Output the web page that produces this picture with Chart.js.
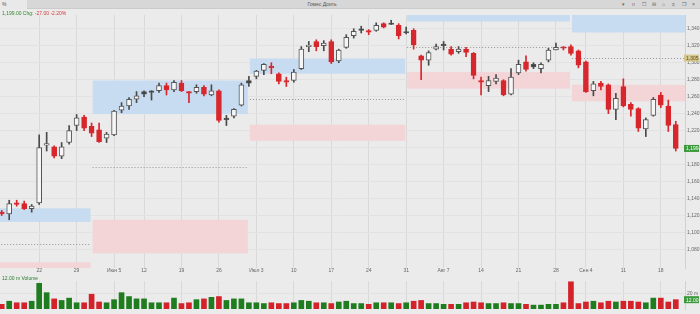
<!DOCTYPE html>
<html>
<head>
<meta charset="utf-8">
<script src="https://cdn.jsdelivr.net/npm/chart.js@4.4.1/dist/chart.umd.min.js"></script>
<style>
  body { margin: 0; background: #ebebeb; font-family: "Liberation Sans", Arial, sans-serif; }
  #wrap { position: relative; width: 700px; height: 314px; overflow: hidden; background: #ebebeb; }
  #topbar { position: absolute; left: 0; top: 0; width: 700px; height: 9px; background: #d7d7d7; border-bottom: 1px solid #cbcbcb; box-sizing: border-box; }
  #tab { position: absolute; left: 0; top: 0; width: 27px; height: 9px; background: #e9e9e9; font-size: 5px; color: #555; line-height: 9px; padding-left: 2px; box-sizing: border-box; }
  #title { position: absolute; left: 290px; width: 64px; top: 0; text-align: center; font-size: 5px; line-height: 9px; color: #555; }
  .ico { position: absolute; top: 0; font-size: 5px; line-height: 9px; color: #666; }
  canvas { position: absolute; left: 0; }
  #price { top: 10px; }
  #vol { top: 276px; }
  #info { position: absolute; left: 2px; top: 10px; font-size: 5px; line-height: 7px; }
  #volinfo { position: absolute; left: 2px; top: 275px; font-size: 5px; line-height: 7px; color: #2a7d2a; }
</style>
</head>
<body>
<div id="wrap">
  <div id="topbar">
    <div id="tab">%</div>
    <div id="title">Гомес Доить</div>
    <span class="ico" style="left:622px">▾</span>
    <span class="ico" style="left:632px">ıı</span>
    <span class="ico" style="left:642px">☐</span>
    <span class="ico" style="left:652px">⊟</span>
    <span class="ico" style="left:662px">⌂</span>
    <span class="ico" style="left:672px">≡</span>
    <span class="ico" style="left:682px">❐</span>
    <span class="ico" style="left:692px">×</span>
  </div>
  <canvas id="price" width="700" height="266"></canvas>
  <canvas id="vol" width="700" height="38"></canvas>
  <div id="info"></div>
  <div id="volinfo"></div>
</div>
<script>
// week start labels and the bar they sit on
var weekIdx = [5, 10, 15, 19, 24, 29, 34, 39, 44, 49, 54, 59, 64, 69, 74, 78, 83, 88];
var weekLbl = ['22', '29', 'Июн 5', '12', '19', '26', 'Июл 3', '10', '17', '24', '31', 'Авг 7', '14', '21', '28', 'Сен 4', '11', '18'];

var opens = [1124, 1122, 1135, 1134, 1128, 1135, 1203, 1201, 1190, 1206, 1226, 1236, 1225, 1221, 1211, 1215, 1244, 1249, 1257, 1266,
    1266, 1267, 1273, 1268, 1276, 1266, 1266, 1271, 1262, 1267, 1234, 1237, 1250, 1279, 1284, 1291, 1295, 1287, 1279, 1279,
    1293, 1319, 1325, 1320, 1325, 1302, 1318, 1332, 1339, 1337, 1338, 1346, 1346, 1344, 1336, 1338, 1308, 1303, 1316, 1322,
    1316, 1313, 1316, 1311, 1279, 1273, 1278, 1279, 1263, 1288, 1301, 1298, 1293, 1303, 1315, 1318, 1319, 1314, 1301, 1267,
    1276, 1274, 1245, 1272, 1251, 1246, 1222, 1238, 1262, 1249, 1227];
var highs = [1126, 1138, 1138, 1137, 1133, 1215, 1218, 1202, 1206, 1226, 1239, 1238, 1229, 1229, 1218, 1244, 1253, 1259, 1266, 1267,
    1267, 1276, 1276, 1279, 1279, 1266, 1274, 1273, 1274, 1268, 1238, 1246, 1276, 1284, 1291, 1299, 1300, 1288, 1283, 1292,
    1319, 1325, 1327, 1326, 1327, 1316, 1333, 1340, 1343, 1339, 1347, 1347, 1350, 1346, 1342, 1340, 1309, 1314, 1322, 1325,
    1319, 1319, 1318, 1312, 1283, 1284, 1286, 1280, 1293, 1303, 1308, 1300, 1300, 1317, 1323, 1319, 1321, 1315, 1302, 1278,
    1278, 1275, 1264, 1281, 1253, 1247, 1235, 1259, 1265, 1256, 1231];
var lows = [1120, 1115, 1131, 1127, 1124, 1133, 1196, 1188, 1187, 1204, 1220, 1220, 1213, 1206, 1206, 1214, 1241, 1245, 1253, 1260,
    1256, 1265, 1262, 1266, 1266, 1253, 1264, 1261, 1261, 1230, 1226, 1235, 1249, 1272, 1281, 1286, 1287, 1275, 1272, 1277,
    1292, 1313, 1314, 1314, 1299, 1300, 1317, 1329, 1335, 1333, 1337, 1341, 1345, 1328, 1334, 1316, 1280, 1297, 1315, 1315,
    1309, 1311, 1307, 1281, 1262, 1266, 1275, 1261, 1262, 1286, 1290, 1293, 1288, 1301, 1315, 1315, 1309, 1294, 1265, 1261,
    1268, 1240, 1233, 1248, 1237, 1219, 1213, 1237, 1247, 1219, 1196];
var closes = [1122, 1134, 1133, 1128, 1131, 1200, 1204, 1190, 1201, 1220, 1235, 1223, 1217, 1207, 1216, 1243, 1249, 1257, 1261, 1263,
    1265, 1273, 1268, 1277, 1267, 1264, 1271, 1263, 1267, 1232, 1233, 1245, 1274, 1276, 1290, 1298, 1294, 1278, 1277, 1289,
    1316, 1320, 1319, 1323, 1301, 1315, 1330, 1337, 1338, 1336, 1344, 1342, 1345, 1332, 1335, 1321, 1303, 1312, 1319, 1320,
    1310, 1316, 1312, 1285, 1277, 1279, 1282, 1262, 1283, 1298, 1292, 1295, 1298, 1315, 1318, 1317, 1311, 1297, 1266, 1275,
    1272, 1245, 1258, 1249, 1245, 1223, 1233, 1257, 1250, 1226, 1199];
// volume in millions
var volumes = [6, 10, 8, 8, 10, 33, 21, 13, 11, 14, 8, 8, 19, 9, 8, 12, 21, 16, 13, 13,
    8, 8, 8, 14, 7, 8, 12, 13, 15, 16, 11, 13, 13, 8, 8, 7, 8, 7, 7, 8,
    11, 10, 8, 8, 7, 9, 10, 7, 7, 6, 8, 8, 8, 7, 8, 10, 11, 7, 7, 6,
    6, 6, 8, 9, 8, 7, 7, 8, 7, 7, 6, 5, 5, 6, 6, 8, 35, 7, 9, 10,
    8, 10, 9, 10, 10, 9, 8, 14, 14, 9, 12];

// monthly zones: first bar of each period, support / resistance bands and pivot
var zoneFrom = [-1, 12, 33, 54, 76];
var zoneTo = [12, 33, 54, 76, 92];
var blueTop = [1128.5, 1279, 1305, 1357, 1357];
var blueBot = [1112.5, 1239.5, 1287, 1348.5, 1335.5];
var pinkTop = [1065, 1115, 1227, 1289, 1274];
var pinkBot = [1050, 1075.5, 1208, 1269.5, 1254.5];
var pivots = [1087, 1177, 1257, 1319, 1305.4];

var priceTicks = [1080, 1100, 1120, 1140, 1160, 1180, 1200, 1220, 1240, 1260, 1280, 1300, 1320, 1340];
var volTicks = [20];

var RED = '#d7262c', DARK = '#3c3c3c', HOLLOW = '#f6f6f6', EDGE = '#555555';
var VGREEN = '#1f7d1f', VRED = '#d4222a';

function fmt(v) {
    return v.toLocaleString('en-US', { minimumFractionDigits: 2, maximumFractionDigits: 2 });
}

var n = closes.length;
var bodyFill = [], bodyEdge = [], wickCol = [], volCol = [];
for (var i = 0; i < n; i++) {
    var prev = i > 0 ? closes[i - 1] : opens[i];
    var down = closes[i] < prev;
    var up = closes[i] >= opens[i];
    bodyFill.push(up ? HOLLOW : (down ? RED : DARK));
    bodyEdge.push(down ? RED : EDGE);
    wickCol.push(down ? RED : '#4a4a4a');
    volCol.push(down ? VRED : VGREEN);
}

var last = n - 1;
var chg = closes[last] - closes[last - 1];
document.getElementById('info').innerHTML =
    '<span style="color:#2f8a2f">' + fmt(closes[last]) + ' Chg: </span>' +
    '<span style="color:#d23a3a">' + fmt(chg) + ' ' + (chg / closes[last - 1] * 100).toFixed(2) + '%</span>';
document.getElementById('volinfo').textContent = fmt(volumes[last]) + ' m Volume';

var xMin = -0.23, xMax = 91.23;

function xScale(showLabels) {
    return {
        type: 'linear',
        min: xMin,
        max: xMax,
        offset: false,
        afterBuildTicks: function (scale) {
            scale.ticks = weekIdx.map(function (v) { return { value: v }; });
        },
        afterFit: function (scale) { scale.height = showLabels ? 8 : 2; },
        ticks: {
            display: showLabels,
            autoSkip: false,
            maxRotation: 0,
            padding: 0,
            font: { size: 5 },
            color: '#666',
            callback: function (v) {
                var k = weekIdx.indexOf(v);
                return k >= 0 ? weekLbl[k] : '';
            }
        },
        grid: { color: '#d9d9d9', drawTicks: false, offset: false },
        border: { display: false }
    };
}

var zonePlugin = {
    id: 'zones',
    beforeDatasetsDraw: function (chart) {
        var ctx = chart.ctx, a = chart.chartArea, x = chart.scales.x, y = chart.scales.y;
        ctx.save();
        ctx.beginPath();
        ctx.rect(a.left, a.top, a.right - a.left, a.bottom - a.top);
        ctx.clip();
        for (var k = 0; k < zoneFrom.length; k++) {
            var x1 = x.getPixelForValue(zoneFrom[k]) + 1;
            var x2 = x.getPixelForValue(zoneTo[k]) - 1;
            ctx.fillStyle = '#c8dcf1';
            var b1 = y.getPixelForValue(blueTop[k]), b2 = y.getPixelForValue(blueBot[k]);
            ctx.fillRect(x1, b1, x2 - x1, b2 - b1);
            ctx.fillStyle = '#f3d5d8';
            var p1 = y.getPixelForValue(pinkTop[k]), p2 = y.getPixelForValue(pinkBot[k]);
            ctx.fillRect(x1, p1, x2 - x1, p2 - p1);
            var py = Math.round(y.getPixelForValue(pivots[k])) + 0.5;
            ctx.strokeStyle = '#949494';
            ctx.lineWidth = 1;
            ctx.setLineDash([1, 2]);
            ctx.beginPath();
            ctx.moveTo(x1, py);
            ctx.lineTo(x2, py);
            ctx.stroke();
        }
        ctx.restore();
    },
    afterDraw: function (chart) {
        var ctx = chart.ctx, a = chart.chartArea, y = chart.scales.y;
        function tag(val, bg, fg) {
            var py = y.getPixelForValue(val);
            ctx.fillStyle = bg;
            ctx.fillRect(a.right - 1, py - 3.5, chart.width - a.right, 7);
            ctx.fillStyle = fg;
            ctx.font = '5px "Liberation Sans"';
            ctx.textBaseline = 'middle';
            ctx.fillText(fmt(val), a.right + 1, py + 0.5);
        }
        ctx.save();
        tag(pivots[pivots.length - 1], '#d5c68b', '#5e511f');
        tag(closes[last], '#3c9a3c', '#ffffff');
        ctx.restore();
    }
};

var volTagPlugin = {
    id: 'voltag',
    afterDraw: function (chart) {
        var ctx = chart.ctx, a = chart.chartArea, y = chart.scales.y;
        var py = y.getPixelForValue(volumes[last]);
        ctx.save();
        ctx.fillStyle = '#3c9a3c';
        ctx.fillRect(a.right - 1, py - 3.5, chart.width - a.right, 7);
        ctx.fillStyle = '#fff';
        ctx.font = '5px "Liberation Sans"';
        ctx.textBaseline = 'middle';
        ctx.fillText(fmt(volumes[last]) + ' m', a.right + 1, py + 0.5);
        ctx.restore();
    }
};

new Chart(document.getElementById('price').getContext('2d'), {
    type: 'bar',
    data: {
        datasets: [{
            label: 'Body',
            data: opens.map(function (o, i) { return { x: i, y: [o, closes[i]] }; }),
            backgroundColor: bodyFill,
            borderColor: bodyEdge,
            borderWidth: 1,
            borderSkipped: false,
            barThickness: 5,
            minBarLength: 1.5,
            grouped: false
        }, {
            label: 'Wick',
            data: lows.map(function (l, i) { return { x: i, y: [l, highs[i]] }; }),
            backgroundColor: wickCol,
            borderWidth: 0,
            barThickness: 1,
            grouped: false
        }]
    },
    options: {
        responsive: false,
        animation: false,
        layout: { padding: 0 },
        plugins: { legend: { display: false }, tooltip: { enabled: false } },
        scales: {
            x: xScale(true),
            y: {
                type: 'linear',
                position: 'right',
                min: 1058.2,
                max: 1356.2,
                afterBuildTicks: function (scale) {
                    scale.ticks = priceTicks.map(function (v) { return { value: v }; });
                },
                afterFit: function (scale) { scale.width = 15; },
                ticks: {
                    padding: 2,
                    font: { size: 5 },
                    color: '#666',
                    callback: function (v) { return v.toLocaleString('en-US'); }
                },
                grid: { color: '#e2e2e2', drawTicks: false },
                border: { display: true, color: '#d0d0d0' }
            }
        }
    },
    plugins: [zonePlugin]
});

new Chart(document.getElementById('vol').getContext('2d'), {
    type: 'bar',
    data: {
        datasets: [{
            label: 'Volume',
            data: volumes.map(function (v, i) { return { x: i, y: v }; }),
            backgroundColor: volCol,
            borderWidth: 0,
            barThickness: 5
        }]
    },
    options: {
        responsive: false,
        animation: false,
        layout: { padding: 0 },
        plugins: { legend: { display: false }, tooltip: { enabled: false } },
        scales: {
            x: xScale(false),
            y: {
                type: 'linear',
                position: 'right',
                min: 0,
                max: 36,
                afterBuildTicks: function (scale) {
                    scale.ticks = volTicks.map(function (v) { return { value: v }; });
                },
                afterFit: function (scale) { scale.width = 15; },
                ticks: {
                    padding: 2,
                    font: { size: 5 },
                    color: '#666',
                    callback: function (v) { return v + ' m'; }
                },
                grid: { color: '#e2e2e2', drawTicks: false },
                border: { display: true, color: '#d0d0d0' }
            }
        }
    },
    plugins: [volTagPlugin]
});
</script>
</body>
</html>
